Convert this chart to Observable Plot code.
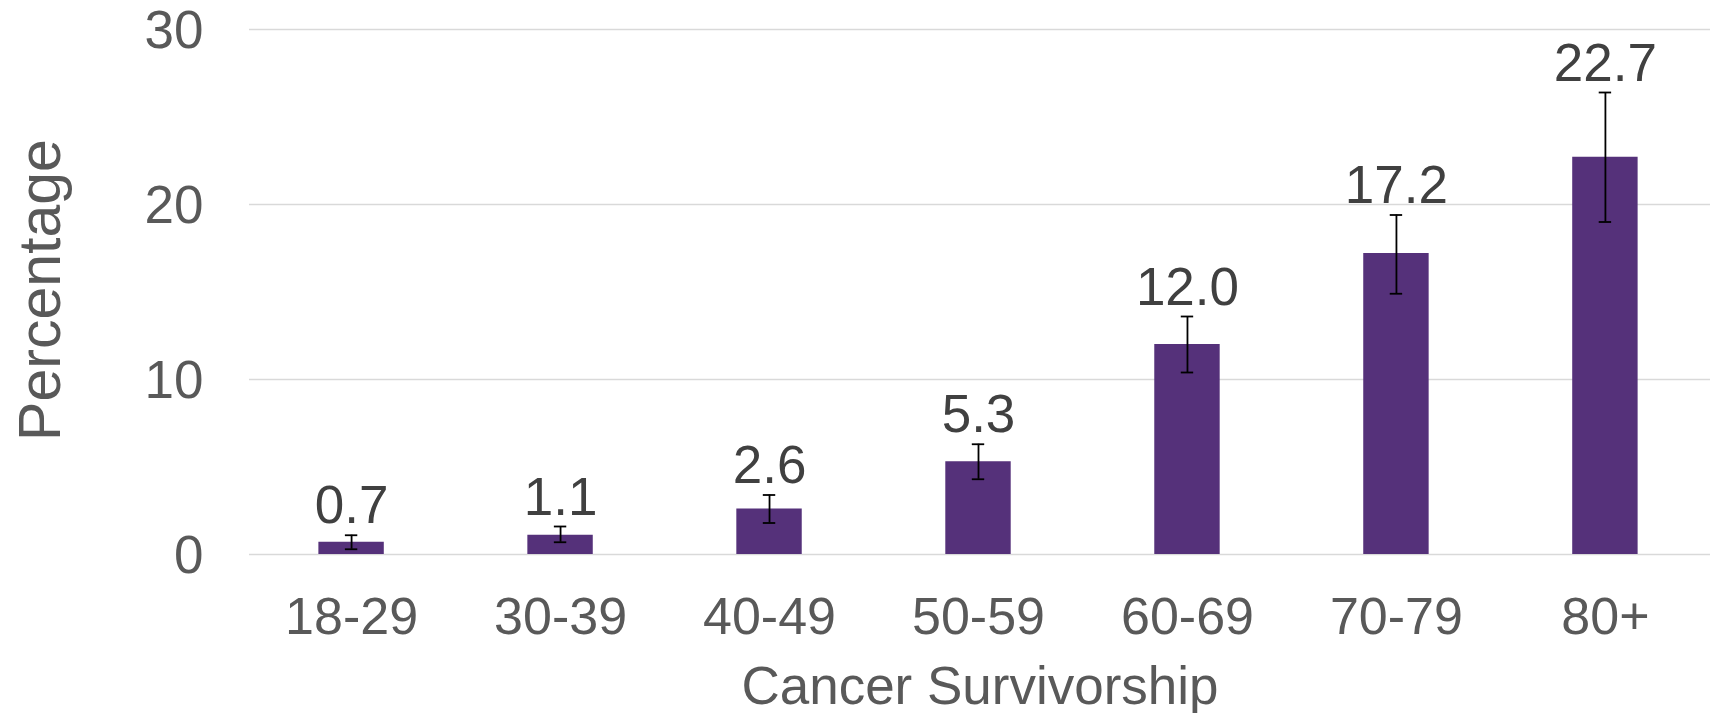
<!DOCTYPE html>
<html>
<head>
<meta charset="utf-8">
<script src="https://cdn.jsdelivr.net/npm/d3@7"></script>
<script src="https://cdn.jsdelivr.net/npm/@observablehq/plot@0.6"></script>
<style>
  html, body { margin: 0; padding: 0; background: #fff; }
  svg { display: block; }
</style>
</head>
<body>
<div id="chart"></div>
<script>
const categories = ["18-29", "30-39", "40-49", "50-59", "60-69", "70-79", "80+"];
const values = [0.7, 1.1, 2.6, 5.3, 12.0, 17.2, 22.7];
const lower = [0.3, 0.7, 1.8, 4.3, 10.4, 14.9, 19.0];
const upper = [1.1, 1.6, 3.4, 6.3, 13.6, 19.4, 26.4];
const yTicks = [0, 10, 20, 30];
const xTitle = "Cancer Survivorship";
const yTitle = "Percentage";

const data = categories.map((c, i) => ({cat: c, value: values[i], lo: lower[i], hi: upper[i]}));

const W = 1710, H = 713;
const mLeft = 249, mTop = 29, mBottom = 159;

const chart = Plot.plot({
  width: W,
  height: H,
  marginLeft: mLeft,
  marginRight: 0,
  marginTop: mTop,
  marginBottom: mBottom,
  style: {fontFamily: "'Liberation Sans', Arial, sans-serif", background: "#fff"},
  x: {domain: categories, range: [246.6, 1709.4], paddingInner: 0.687, paddingOuter: 0.3435, round: false, label: null},
  y: {domain: [0, 30], label: null},
  marks: [
    Plot.gridY(yTicks, {stroke: "#d9d9d9", strokeOpacity: 1, strokeWidth: 1.5}),
    Plot.barY(data, {x: "cat", y: "value", fill: "#55317a"}),
    Plot.ruleX(data, {x: "cat", y1: "lo", y2: "hi", stroke: "#000", strokeWidth: 1.8}),
    Plot.tickY(data, {x: "cat", y: "lo", stroke: "#000", strokeWidth: 1.8, insetLeft: 26.5, insetRight: 26.5}),
    Plot.tickY(data, {x: "cat", y: "hi", stroke: "#000", strokeWidth: 1.8, insetLeft: 26.5, insetRight: 26.5}),
    Plot.text(data, {x: "cat", y: "hi", text: d => d.value.toFixed(1), dy: -12, lineAnchor: "bottom", fontSize: 53, fill: "#404040"}),
    Plot.axisY({ticks: yTicks, tickSize: 0, tickPadding: 46, dy: 2, fontSize: 53, color: "#595959", label: null}),
    Plot.axisX({tickSize: 0, tickPadding: 43, fontSize: 52, color: "#595959", label: null}),
    Plot.text([xTitle], {frameAnchor: "bottom", dy: 149, lineAnchor: "bottom", fontSize: 53, fill: "#595959"}),
    Plot.text([yTitle], {frameAnchor: "left", dx: -190, dy: -2, rotate: -90, textAnchor: "middle", lineAnchor: "bottom", fontSize: 59, fill: "#595959"})
  ]
});
document.getElementById("chart").appendChild(chart);
</script>
</body>
</html>
